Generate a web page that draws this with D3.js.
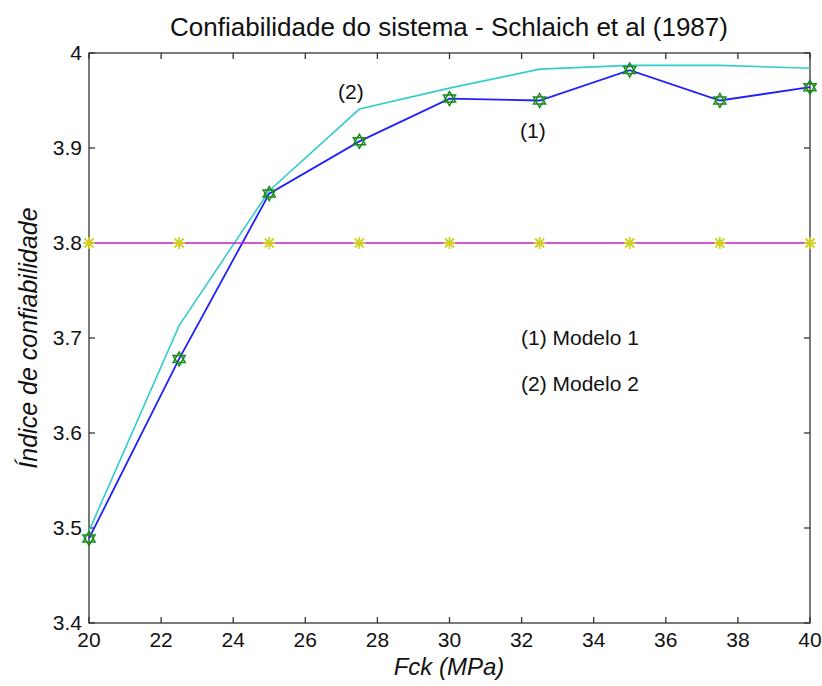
<!DOCTYPE html>
<meta charset="utf-8">
<body style="margin:0;background:#fff">
<svg width="822" height="686"></svg>
<script src="https://d3js.org/d3.v7.min.js"></script>
<script>

// Fck values (MPa)
var fck = [20, 22.5, 25, 27.5, 30, 32.5, 35, 37.5, 40];
// reliability index, model 1 and model 2
var modelo1 = [3.489, 3.678, 3.852, 3.907, 3.952, 3.950, 3.982, 3.950, 3.964];
var modelo2 = [3.497, 3.713, 3.855, 3.941, 3.963, 3.983, 3.987, 3.987, 3.984];
var alvo = 3.8;
var xTicks = [20, 22, 24, 26, 28, 30, 32, 34, 36, 38, 40];
var yTicks = [3.4, 3.5, 3.6, 3.7, 3.8, 3.9, 4];

var svg = d3.select("svg");
var font = "'Liberation Sans', Arial, sans-serif";

var pL = 89, pR = 810, pT = 53, pB = 623;
var x = d3.scaleLinear().domain([20, 40]).range([pL, pR]);
var y = d3.scaleLinear().domain([3.4, 4]).range([pB, pT]);

// box + ticks (matlab style, inward ticks on all sides)
var tk = 6;
var axes = svg.append('g').attr('stroke', '#333').attr('stroke-width', 1.3);
axes.append('rect')
    .attr('x', pL).attr('y', pT)
    .attr('width', pR - pL).attr('height', pB - pT)
    .attr('fill', 'none');
xTicks.forEach(function(d){
  axes.append('line').attr('x1', x(d)).attr('x2', x(d)).attr('y1', pB).attr('y2', pB - tk);
  axes.append('line').attr('x1', x(d)).attr('x2', x(d)).attr('y1', pT).attr('y2', pT + tk);
});
yTicks.forEach(function(d){
  axes.append('line').attr('x1', pL).attr('x2', pL + tk).attr('y1', y(d)).attr('y2', y(d));
  axes.append('line').attr('x1', pR).attr('x2', pR - tk).attr('y1', y(d)).attr('y2', y(d));
});

var txt = svg.append('g').attr('font-family', font).attr('fill', '#111');
xTicks.forEach(function(d){
  txt.append('text').attr('x', x(d)).attr('y', pB + 24)
     .attr('text-anchor', 'middle').attr('font-size', 21).text(d);
});
yTicks.forEach(function(d){
  txt.append('text').attr('x', pL - 7).attr('y', y(d) + 7)
     .attr('text-anchor', 'end').attr('font-size', 21).text(d3.format('.1f')(d).replace('4.0', '4'));
});

txt.append('text').attr('x', 449).attr('y', 36).attr('text-anchor', 'middle')
   .attr('font-size', 26).text('Confiabilidade do sistema - Schlaich et al (1987)');
txt.append('text').attr('x', 449).attr('y', 675).attr('text-anchor', 'middle')
   .attr('font-size', 24).attr('font-style', 'italic').text('Fck (MPa)');
txt.append('text').attr('transform', 'translate(37,338) rotate(-90)').attr('text-anchor', 'middle')
   .attr('font-size', 25).attr('font-style', 'italic').text('Índice de confiabilidade');

// series
var line = d3.line().x(function(d, i){ return x(fck[i]); }).y(function(d){ return y(d); });

svg.append('path').datum(modelo2).attr('d', line)
   .attr('fill', 'none').attr('stroke', '#33cccc').attr('stroke-width', 1.6);
svg.append('path').datum(modelo1).attr('d', line)
   .attr('fill', 'none').attr('stroke', '#2020ff').attr('stroke-width', 1.8);
svg.append('path').datum(fck.map(function(){ return alvo; })).attr('d', line)
   .attr('fill', 'none').attr('stroke', '#c020c0').attr('stroke-width', 1.6);

// hexagram markers
function hexagram(r){
  var p = '';
  [0, Math.PI].forEach(function(off){
    for (var k = 0; k < 3; k++) {
      var a = off - Math.PI / 2 + k * 2 * Math.PI / 3;
      p += (k ? 'L' : 'M') + (r * Math.cos(a)).toFixed(2) + ',' + (r * Math.sin(a)).toFixed(2);
    }
    p += 'Z';
  });
  return p;
}
svg.append('g').selectAll('path').data(modelo1).join('path')
   .attr('transform', function(d, i){ return 'translate(' + x(fck[i]) + ',' + y(d) + ')'; })
   .attr('d', hexagram(7))
   .attr('fill', 'none').attr('stroke', '#1a8a1a').attr('stroke-width', 1.5);

// asterisk markers on target line
var ast = svg.append('g').attr('stroke', '#d0d020').attr('stroke-width', 1.8);
fck.forEach(function(f){
  var g = ast.append('g').attr('transform', 'translate(' + x(f) + ',' + y(alvo) + ')');
  g.append('line').attr('x1', -6).attr('x2', 6);
  g.append('line').attr('y1', -6).attr('y2', 6);
  g.append('line').attr('x1', -4.5).attr('x2', 4.5).attr('y1', -4.5).attr('y2', 4.5);
  g.append('line').attr('x1', -4.5).attr('x2', 4.5).attr('y1', 4.5).attr('y2', -4.5);
});

// annotations
txt.append('text').attr('x', 338).attr('y', 99).attr('font-size', 21).text('(2)');
txt.append('text').attr('x', 520).attr('y', 138).attr('font-size', 21).text('(1)');
txt.append('text').attr('x', 521).attr('y', 345).attr('font-size', 21).text('(1) Modelo 1');
txt.append('text').attr('x', 521).attr('y', 391).attr('font-size', 21).text('(2) Modelo 2');

</script>
</body>
